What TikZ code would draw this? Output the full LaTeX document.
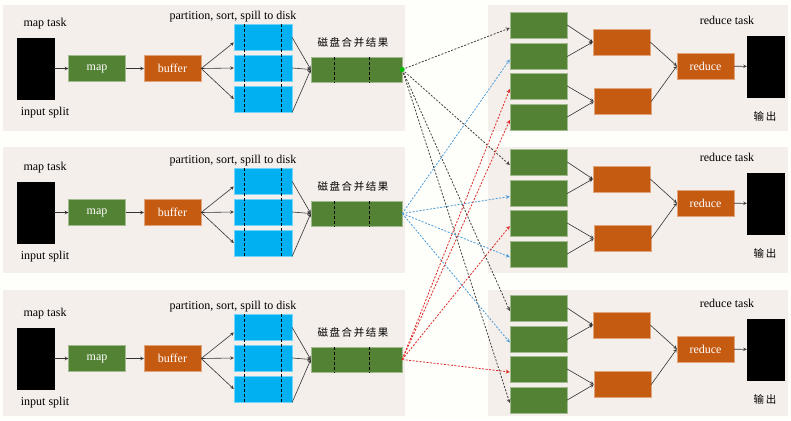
\documentclass[tikz,border=0pt]{standalone}
\usepackage{fontspec}
\setmainfont{Liberation Serif}
\newfontfamily\cjk[LetterSpace=15]{Noto Sans CJK SC}

\definecolor{pagebg}{HTML}{FEFEFA}
\definecolor{panelbg}{HTML}{F5EFEB}
\definecolor{mgreen}{HTML}{548235}
\definecolor{morange}{HTML}{C55A11}
\definecolor{mblue}{HTML}{00B0F0}
\definecolor{lblack}{HTML}{404040}
\definecolor{lblue}{HTML}{4A9BD8}
\definecolor{lred}{HTML}{E02828}

\begin{document}
\begin{tikzpicture}[x=1pt, y=-1pt,
	every node/.style={font=\fontsize{12}{14}\selectfont, inner sep=0pt},
	box/.style={draw=#1!55!white, fill=#1, text=white, minimum width=57pt, minimum height=26pt},
	blackbox/.style={draw=black, fill=black, minimum width=37pt, minimum height=61pt},
	chn/.style={font=\fontsize{10.5}{12}\selectfont\cjk},
	flow/.style={line width=.6pt, draw=black!80, -stealth},
	link/.style={dash pattern=on 2pt off 1.5pt, line width=.8pt, -stealth}]

	\useasboundingbox (0,0) rectangle (791,420);
	\fill[pagebg] (0,0) rectangle (791,420);

	% panels
	\foreach \top in {5,147,290}{
		\fill[panelbg] (3,\top) rectangle (405,\top+126);
		\fill[panelbg] (488,\top) rectangle (788,\top+126);
	}

	% map side
	\foreach \i/\dy in {1/0,2/144,3/290}{
		\begin{scope}[shift={(0,\dy)}]
			\node (task\i) at (45,24) {map task};
			\node[blackbox] (in\i) at (35.5,68.5) {};
			\node (split\i) at (45,113) {input split};
			\node[box=mgreen] (map\i) at (97,68.5) {map};
			\node[box=morange] (buf\i) at (172.5,68.5) {buffer};
			\node (part\i) at (233,17) {partition, sort, spill to disk};
			\foreach \j/\y in {1/37.5,2/68,3/99}
				\node[box=mblue, minimum width=58pt] (sp\i\j) at (263,\y) {};
			\draw[densely dashed] ([xshift=10pt]sp\i1.north west) -- ([xshift=10pt]sp\i3.south west);
			\draw[densely dashed] ([xshift=47pt]sp\i1.north west) -- ([xshift=47pt]sp\i3.south west);
			\node[chn] (disk\i) at (353,42) {磁盘合并结果};
			\node[box=mgreen, minimum width=91pt, minimum height=25pt] (mrg\i) at (356.5,69.5) {};
			\draw[densely dashed] ([xshift=23pt]mrg\i.north west) -- ([xshift=23pt]mrg\i.south west);
			\draw[densely dashed] ([xshift=58pt]mrg\i.north west) -- ([xshift=58pt]mrg\i.south west);

			\draw[flow] (in\i) -- (map\i);
			\draw[flow] (map\i) -- (buf\i);
			\draw[flow] (buf\i.east) -- ([yshift=-5pt]sp\i1.west);
			\draw[flow] (buf\i.east) -- (sp\i2.west);
			\draw[flow] (buf\i.east) -- (sp\i3.west);
			\draw[flow] (sp\i1.east) -- (mrg\i.west);
			\draw[flow] (sp\i2.east) -- (mrg\i.west);
			\draw[flow] (sp\i3.south east) -- (mrg\i.west);
		\end{scope}
	}

	% reduce side
	\foreach \i/\dy in {1/0,2/137,3/283}{
		\begin{scope}[shift={(0,\dy)}]
			\foreach \j/\y in {1/25,2/56.5,3/86,4/117}
				\node[box=mgreen] (sl\i\j) at (538.5,\y) {};
			\node[box=morange] (pre\i1) at (621.5,42) {};
			\node[box=morange] (pre\i2) at (622.5,101.5) {};
			\node[box=morange] (red\i) at (705.5,66) {reduce};
			\node[blackbox] (out\i) at (765.5,66.5) {};
			\node (rtask\i) at (727,20) {reduce task};
			\node[chn] (outl\i) at (765,116) {输出};

			\draw[flow] (sl\i1.east) -- (pre\i1.west);
			\draw[flow] (sl\i2.east) -- (pre\i1.west);
			\draw[flow] (sl\i3.east) -- (pre\i2.west);
			\draw[flow] (sl\i4.east) -- (pre\i2.west);
			\draw[flow] (pre\i1.east) -- (red\i.west);
			\draw[flow] (pre\i2.east) -- (red\i.west);
			\draw[flow] (red\i) -- (out\i);
		\end{scope}
	}

	% shuffle
	\foreach \t in {sl11,sl21,sl31,sl34}
		\draw[link, lblack] (mrg1.east) -- ([yshift=-3pt]\t.west);
	\foreach \t in {sl12,sl22,sl24,sl32}
		\draw[link, lblue] (mrg2.east) -- ([yshift=-3pt]\t.west);
	\foreach \t in {sl13,sl14,sl23,sl33}
		\draw[link, lred] (mrg3.east) -- ([yshift=-3pt]\t.west);
	\node[circle, fill=green!75!black, minimum size=5pt] (dot) at (mrg1.east) {};
\end{tikzpicture}
\end{document}
